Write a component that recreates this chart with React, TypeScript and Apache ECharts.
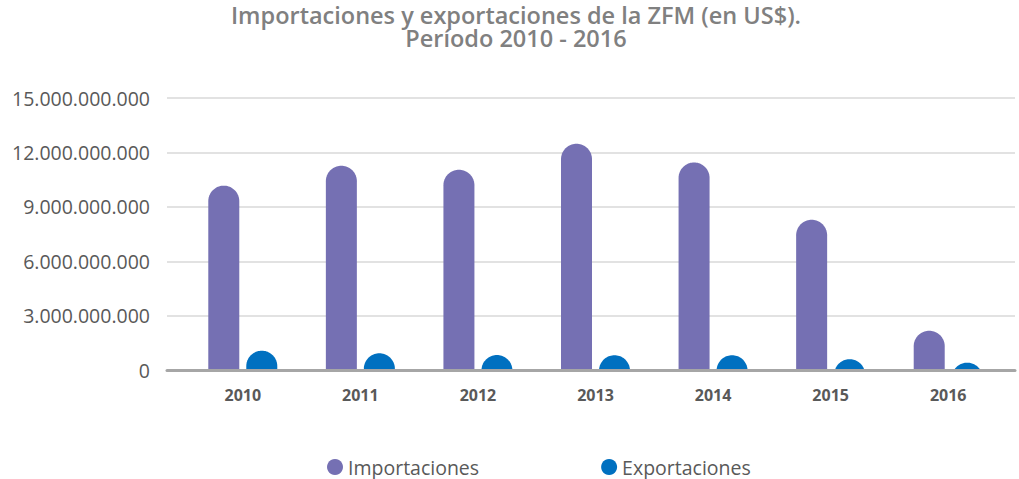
import React, { useEffect, useRef } from "react";
import * as echarts from "echarts";

const categories = ["2010", "2011", "2012", "2013", "2014", "2015", "2016"];
const importaciones = [10.17e9, 11.27e9, 11.05e9, 12.48e9, 11.45e9, 8.29e9, 2.18e9];
const exportaciones = [1.08e9, 0.94e9, 0.84e9, 0.83e9, 0.83e9, 0.61e9, 0.42e9];
const yTicks = [0, 3e9, 6e9, 9e9, 12e9, 15e9];
const titleLines = [
  "Importaciones y exportaciones de la ZFM (en US$).",
  "Período 2010 - 2016",
];

const IMP_COLOR = "#7570B3";
const EXP_COLOR = "#0070C0";
const BAR_W = 31;
const GAP = 7;

function domePoints(cx: number, top: number, y0: number, r: number) {
  const h = y0 - top;
  const pts: number[][] = [];
  const cy = top + r;
  const N = 40;
  if (h >= r) {
    pts.push([cx - r, y0]);
    pts.push([cx - r, cy]);
    for (let i = 0; i <= N; i++) {
      const t = Math.PI - (Math.PI * i) / N;
      pts.push([cx + r * Math.cos(t), cy - r * Math.sin(t)]);
    }
    pts.push([cx + r, cy]);
    pts.push([cx + r, y0]);
  } else {
    const t0 = Math.asin((r - h) / r);
    for (let i = 0; i <= N; i++) {
      const t = Math.PI - t0 - ((Math.PI - 2 * t0) * i) / N;
      pts.push([cx + r * Math.cos(t), cy - r * Math.sin(t)]);
    }
  }
  return pts;
}

function makeRender(offset: number, color: string) {
  return (params: any, api: any) => {
    const idx = api.value(0);
    const val = api.value(1);
    const p = api.coord([idx, val]);
    const p0 = api.coord([idx, 0]);
    const cx = p[0] + offset;
    const pts = domePoints(cx, p[1], p0[1], BAR_W / 2);
    return {
      type: "polygon",
      shape: { points: pts },
      style: { fill: color },
    };
  };
}

const fmt = (v: number) => String(Math.round(v)).replace(/\B(?=(\d{3})+(?!\d))/g, ".");

export default function App() {
  const ref = useRef<HTMLDivElement>(null);
  useEffect(() => {
    if (!ref.current) return;
    const chart = echarts.init(ref.current, null, { renderer: "svg" });
    const off = (BAR_W + GAP) / 2;
    const titleStyle = {
      fontFamily: "Open Sans",
      fontWeight: 600,
      fontSize: 23.5,
      lineHeight: 22,
      color: "#808080",
    };
    chart.setOption({
      animation: false,
      backgroundColor: "#ffffff",
      title: [
        { text: titleLines[0], left: 516, textAlign: "center", top: 4, padding: 0, textStyle: titleStyle },
        { text: titleLines[1], left: 516, textAlign: "center", top: 27, padding: 0, textStyle: titleStyle },
      ],
      legend: {
        left: 322,
        top: 452,
        icon: "circle",
        itemWidth: 16,
        itemHeight: 16,
        itemGap: 122,
        textStyle: { fontFamily: "Open Sans", fontSize: 19.5, color: "#595959" },
        data: ["Importaciones", "Exportaciones"],
      },
      grid: [
        { left: 167, right: 4, top: 98, bottom: 108.7 },
        { left: 184, right: 12, top: 98, bottom: 108.7 },
      ],
      xAxis: [
        {
          type: "value",
          gridIndex: 0,
          min: 0,
          max: 1,
          z: 10,
          axisLine: { show: true, lineStyle: { color: "#A6A6A6", width: 3 } },
          axisTick: { show: false },
          axisLabel: { show: false },
          splitLine: { show: false },
        },
        {
          type: "category",
          gridIndex: 1,
          data: categories,
          axisLine: { show: false },
          axisTick: { show: false },
          axisLabel: {
            margin: 17,
            fontFamily: "Open Sans",
            fontWeight: "bold",
            fontSize: 16,
            color: "#595959",
          },
        },
      ],
      yAxis: [
        {
          type: "value",
          gridIndex: 0,
          min: yTicks[0],
          max: yTicks[yTicks.length - 1],
          interval: yTicks[1] - yTicks[0],
          axisLine: { show: false },
          axisTick: { show: false },
          axisLabel: {
            margin: 17,
            fontFamily: "Open Sans",
            fontSize: 19.5,
            color: "#595959",
            formatter: fmt,
          },
          splitLine: { lineStyle: { color: "#D9D9D9", width: 1.5 } },
        },
        {
          type: "value",
          gridIndex: 1,
          min: yTicks[0],
          max: yTicks[yTicks.length - 1],
          show: false,
          splitLine: { show: false },
        },
      ],
      series: [
        {
          name: "Importaciones",
          type: "custom",
          xAxisIndex: 1,
          yAxisIndex: 1,
          itemStyle: { color: IMP_COLOR },
          renderItem: makeRender(-off, IMP_COLOR),
          encode: { x: 0, y: 1 },
          data: importaciones.map((v, i) => [i, v]),
          z: 2,
        },
        {
          name: "Exportaciones",
          type: "custom",
          xAxisIndex: 1,
          yAxisIndex: 1,
          itemStyle: { color: EXP_COLOR },
          renderItem: makeRender(off, EXP_COLOR),
          encode: { x: 0, y: 1 },
          data: exportaciones.map((v, i) => [i, v]),
          z: 2,
        },
      ],
    });
    return () => chart.dispose();
  }, []);
  return (
    <div
      ref={ref}
      style={{ position: "fixed", left: 0, top: 0, width: 1019, height: 479 }}
    />
  );
}
